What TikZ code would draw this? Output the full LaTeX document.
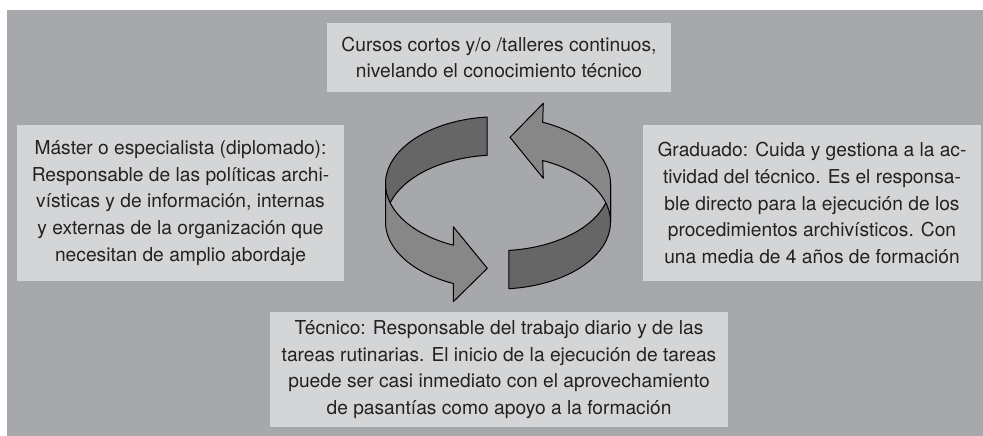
\documentclass[tikz,border=0pt]{standalone}
\usepackage{fontspec}
\setmainfont{TeX Gyre Heros}
\definecolor{bg}{HTML}{A7A8AB}
\definecolor{boxc}{HTML}{D4D5D7}
\definecolor{darkband}{HTML}{666666}
\definecolor{lightband}{HTML}{878787}
\definecolor{txt}{HTML}{222222}
\begin{document}
\begin{tikzpicture}[x=1pt,y=-1pt,
  lbl/.style={fill=boxc, inner sep=0pt, align=center, text=txt,
    font=\fontsize{19.2}{26.6}\selectfont},
  band/.style={draw=black, line width=1pt, line join=round}]
\useasboundingbox (0,0) rectangle (983,436);
\fill[white] (0,0) rectangle (983,436);
\fill[bg] (7,10) rectangle (983,436);

\node[lbl, minimum width=344pt, minimum height=69pt] (top) at (499,57.5)
  {Cursos cortos y/o /talleres continuos,\\nivelando el conocimiento técnico};
\node[lbl, minimum width=327pt, minimum height=156pt] (left) at (180.5,203)
  {Máster o especialista (diplomado):\\Responsable de las políticas archi-\\vísticas y de información, internas\\y externas de la organización que\\necesitan de amplio abordaje};
\node[lbl, minimum width=338pt, minimum height=156pt] (right) at (812,203)
  {Graduado: Cuida y gestiona a la ac-\\tividad del técnico. Es el responsa-\\ble directo para la ejecución de los\\procedimientos archivísticos. Con\\una media de 4 años de formación};
\node[lbl, minimum width=458pt, minimum height=115pt] (bottom) at (499,369.5)
  {Técnico: Responsable del trabajo diario y de las\\tareas rutinarias. El inicio de la ejecución de tareas\\puede ser casi inmediato con el aprovechamiento\\de pasantías como apoyo a la formación};

% dark (inner) parts of the ribbons
\filldraw[band, fill=darkband]
  plot[domain=264.5:180, samples=50, variable=\t] ({498+112.5*cos(\t)},{183.7+67*sin(\t)})
  -- plot[domain=180:264.5, samples=50, variable=\t] ({498+112.5*cos(\t)},{222+67*sin(\t)})
  -- cycle;
\filldraw[band, fill=darkband]
  plot[domain=84.5:0, samples=50, variable=\t] ({498+112.5*cos(\t)},{183.7+67*sin(\t)})
  -- plot[domain=0:84.5, samples=50, variable=\t] ({498+112.5*cos(\t)},{222+67*sin(\t)})
  -- cycle;
% light (outer) parts with arrow heads
\filldraw[band, fill=lightband]
  plot[domain=180:113.4, samples=50, variable=\t] ({498+112.5*cos(\t)},{183.7+67*sin(\t)})
  -- (453.3,226.7) -- (487.3,268.3) -- (453.3,301.7)
  -- plot[domain=113.4:180, samples=50, variable=\t] ({498+112.5*cos(\t)},{222+67*sin(\t)})
  -- cycle;
\filldraw[band, fill=lightband]
  plot[domain=360:293.4, samples=50, variable=\t] ({498+112.5*cos(\t)},{183.7+67*sin(\t)})
  -- (543.3,103.3) -- (510,137.3) -- (543.3,178.3)
  -- plot[domain=293.4:360, samples=50, variable=\t] ({498+112.5*cos(\t)},{222+67*sin(\t)})
  -- cycle;
\end{tikzpicture}
\end{document}
